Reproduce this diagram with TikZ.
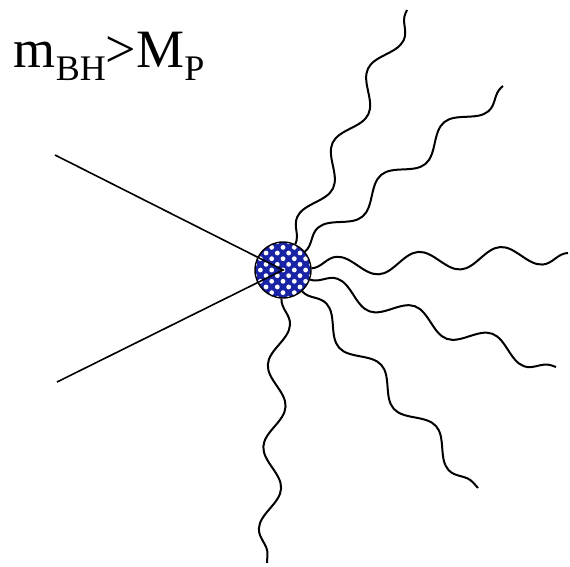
\documentclass[tikz,border=0pt]{standalone}
\usepackage{fontspec}
\setmainfont{Liberation Serif}
\usetikzlibrary{decorations.pathmorphing}
\definecolor{HoleBlue}{RGB}{25,35,165}
\newcommand{\lowsub}[1]{\raisebox{-13pt}{\fontsize{36}{36}\selectfont #1}}

\begin{document}
\begin{tikzpicture}[x=1pt,y=-1pt,line width=1.6pt,
    photon/.style={line width=2pt,decorate,
      decoration={snake,segment length=#1,amplitude=10pt}},
    photon/.default=82pt]
  \useasboundingbox (0,0) rectangle (570,566);
  \node[font=\fontsize{54}{54}\selectfont,anchor=base west,inner sep=0pt]
    (label) at (13,67) {m\lowsub{BH}>M\lowsub{P}};
  % black hole blob
  \begin{scope}
    \clip (283,270) circle (28);
    \fill[HoleBlue] (283,270) circle (28);
    \foreach \i in {-5,...,5}
      \foreach \j in {-5,...,5}
        \fill[white,shift={(283,270)},rotate=45] (\i*8,\j*8) circle (2.4);
  \end{scope}
  \node[draw,circle,minimum size=56pt,inner sep=0pt,line width=1.4pt] (bh) at (283,270) {};
  % incoming particles
  \coordinate (q1) at (55,155);
  \coordinate (q2) at (57,382);
  \draw (q1) -- (bh.center) -- (q2);
  % outgoing radiation
  \coordinate (e1) at (407,10);
  \coordinate (e2) at (503,86);
  \coordinate (e3) at (568,253);
  \coordinate (e4) at (556,367);
  \coordinate (e5) at (478,488);
  \coordinate (e6) at (267,563);
  \foreach \e in {e1,e2,e3,e4,e5,e6}
    \draw[photon] (bh) -- (\e);
\end{tikzpicture}
\end{document}
